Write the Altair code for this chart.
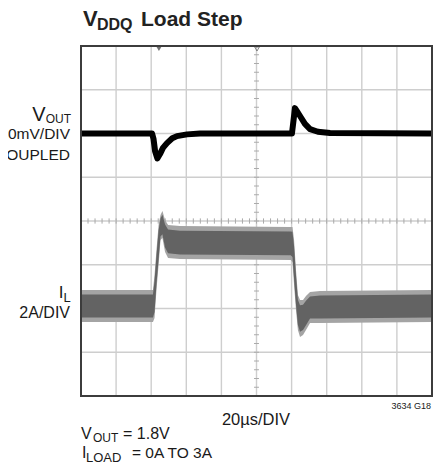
import altair as alt
import pandas as pd

# ---------------- data ----------------
# time in microseconds (20us/DIV, 10 divisions)
vout_t = [0, 40.5, 41.3, 42.2, 43.5, 45.0, 46.7, 49.0, 52.0, 54.7, 60.4, 67.8,
          120.2, 121.1, 121.9, 123.2, 124.8, 127.6, 130.5, 135.0, 141.9, 200]
# VOUT deviation in mV (AC coupled, 100mV/DIV)
vout_mv = [0, 0, -12, -40, -57, -47, -33, -22, -11, -6, -2, 0,
           0, 30, 58, 50, 40, 22, 10, 4, 1, 0]

# inductor current ripple envelope in A (2A/DIV)
il_t = [0, 41.0, 41.9, 43.0, 44.2, 45.3, 46.4, 47.9, 49.6, 56.4, 119.5,
        120.5, 121.4, 122.5, 123.6, 124.8, 126.5, 128.2, 130.5, 136.2, 200]
il_hi = [0.75, 0.75, 1.43, 2.57, 3.72, 4.17, 4.36, 3.95, 3.72, 3.67, 3.63,
         3.63, 3.03, 1.66, 0.52, 0.29, 0.29, 0.47, 0.65, 0.70, 0.75]
il_lo = [-0.72, -0.72, -0.53, 0.75, 1.89, 3.03, 3.12, 2.48, 2.21, 2.16, 2.12,
         2.03, 0.97, -0.17, -1.08, -1.40, -1.31, -1.08, -0.76, -0.76, -0.72]

# graticule
grid_t = [0, 20, 40, 60, 80, 100, 120, 140, 160, 180, 200]
grid_div = [0, 1, 2, 3, 4, 5, 6, 7, 8]
minor_t = [i * 4 for i in range(51)]
minor_div = [i * 0.2 for i in range(41)]
trig_t = [44.4]
ref_t = [100.3]

VOUT_REF = 6.0   # division of VOUT trace baseline
IL_REF = 2.05    # division of 0A
FONT = "Liberation Sans, Arial, sans-serif"

W, H = 351, 350
xs = alt.Scale(domain=[0, 200], nice=False, zero=False)
ys = alt.Scale(domain=[0, 8], nice=False, zero=False)

vdf = pd.DataFrame({"t": vout_t, "mv": vout_mv})
idf = pd.DataFrame({"t": il_t, "hi": il_hi, "lo": il_lo})
gx = pd.DataFrame({"t": grid_t})
gy = pd.DataFrame({"d": grid_div})
mx = pd.DataFrame({"t": minor_t})
my = pd.DataFrame({"d": minor_div})
dummy = pd.DataFrame({"a": [0]})

vgrid = alt.Chart(gx).mark_rule(color="#cecece", strokeWidth=1.4).encode(
    x=alt.X("t:Q", scale=xs, axis=None), y=alt.value(0), y2=alt.value(H))
hgrid = alt.Chart(gy).mark_rule(color="#cecece", strokeWidth=1.4).encode(
    y=alt.Y("d:Q", scale=ys, axis=None), x=alt.value(0), x2=alt.value(W))

xticks = alt.Chart(mx).transform_calculate(y1="3.94", y2="4.06").mark_rule(
    color="#aaaaaa", strokeWidth=1).encode(
    x=alt.X("t:Q", scale=xs, axis=None),
    y=alt.Y("y1:Q", scale=ys, axis=None), y2="y2:Q")
yticks = alt.Chart(my).transform_calculate(x1="98.6", x2="101.4").mark_rule(
    color="#aaaaaa", strokeWidth=1).encode(
    y=alt.Y("d:Q", scale=ys, axis=None),
    x=alt.X("x1:Q", scale=xs, axis=None), x2="x2:Q")

il_outer = alt.Chart(idf).transform_calculate(
    u=f"{IL_REF} + datum.hi/2", l=f"{IL_REF} + datum.lo/2").mark_area(
    color="#a4a4a4", opacity=1).encode(
    x=alt.X("t:Q", scale=xs, axis=None),
    y=alt.Y("u:Q", scale=ys, axis=None), y2="l:Q")
il_inner = alt.Chart(idf).transform_calculate(
    m="(datum.hi + datum.lo)/2").transform_calculate(
    u=f"{IL_REF} + (datum.m + 0.72*(datum.hi - datum.m))/2",
    l=f"{IL_REF} + (datum.m + 0.72*(datum.lo - datum.m))/2").mark_area(
    color="#636363", opacity=1).encode(
    x=alt.X("t:Q", scale=xs, axis=None),
    y=alt.Y("u:Q", scale=ys, axis=None), y2="l:Q")

vline = alt.Chart(vdf).transform_calculate(
    d=f"{VOUT_REF} + datum.mv/100").mark_line(
    color="#000000", strokeWidth=6, strokeJoin="round").encode(
    x=alt.X("t:Q", scale=xs, axis=None),
    y=alt.Y("d:Q", scale=ys, axis=None))

trig = alt.Chart(pd.DataFrame({"t": trig_t})).mark_point(
    shape="triangle-down", size=22, filled=True, color="#333333").encode(
    x=alt.X("t:Q", scale=xs, axis=None), y=alt.value(3))
ref = alt.Chart(pd.DataFrame({"t": ref_t})).mark_point(
    shape="triangle-down", size=22, filled=False, color="#555555", strokeWidth=1).encode(
    x=alt.X("t:Q", scale=xs, axis=None), y=alt.value(3))

frame = alt.Chart(dummy).mark_rect(
    fill=None, stroke="#3c3c3c", strokeWidth=2).encode(
    x=alt.value(0), x2=alt.value(W), y=alt.value(0), y2=alt.value(H))


def label(txt, x, y, size, align="left", weight="normal", color="#1a1a1a"):
    return alt.Chart(dummy).mark_text(
        text=txt, align=align, baseline="alphabetic", fontSize=size,
        font=FONT, fontWeight=weight, color=color).encode(
        x=alt.value(x), y=alt.value(y))


texts = [
    # title
    label("V", 2, -20, 22, weight="bold", color="#222222"),
    label("DDQ", 16, -16, 16, weight="bold", color="#222222"),
    label("Load Step", 60, -20, 21, weight="bold", color="#222222"),
    # VOUT channel label
    label("V", -35.5, 75, 20, align="right"),
    label("OUT", -10, 77, 12, align="right"),
    label("100mV/DIV", -11, 93, 15.5, align="right"),
    label("AC COUPLED", -11, 114, 15.5, align="right"),
    # IL channel label
    label("I", -17.5, 252, 17, align="right"),
    label("L", -17.5, 256, 13),
    label("2A/DIV", -11, 272, 16, align="right"),
    # bottom
    label("20\u00b5s/DIV", 175, 379, 16.5, align="center"),
    label("3634 G18", 350, 363, 9, align="right"),
    label("V", 0, 393, 16),
    label("OUT", 12, 396, 12),
    label("= 1.8V", 42, 393, 16),
    label("I", 1, 412, 16),
    label("LOAD", 5, 416, 13),
    label("= 0A TO 3A", 51, 412, 15.5),
]

chart = alt.layer(vgrid, hgrid, xticks, yticks, il_outer, il_inner, vline,
                  trig, ref, frame, *texts).properties(
    width=W, height=H,
    padding={"left": 73, "top": 38, "right": 6, "bottom": 66},
    autosize=alt.AutoSizeParams(type="none"),
).configure_view(stroke=None)

chart.save("out.html", embed_options={"renderer": "svg", "actions": False})
